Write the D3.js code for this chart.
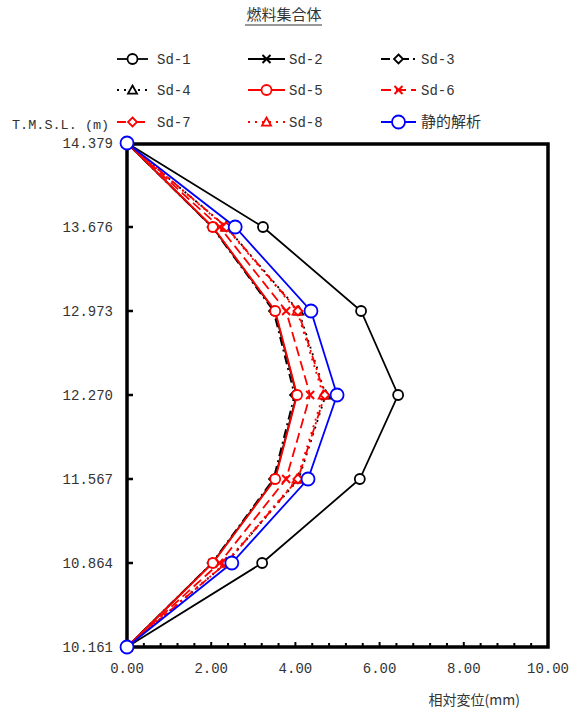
<!DOCTYPE html>
<html><head><meta charset="utf-8">
<script src="https://cdn.jsdelivr.net/npm/d3@7"></script>
<style>body{margin:0;background:#fff}</style></head>
<body><svg id="c" width="571" height="713"></svg>
<script>
const levels = [10.161, 10.864, 11.567, 12.270, 12.973, 13.676, 14.379];
const yTickLabels = ["10.161","10.864","11.567","12.270","12.973","13.676","14.379"];
const xTicks = [0,2,4,6,8,10];
const xTickLabels = ["0.00","2.00","4.00","6.00","8.00","10.00"];
const seriesNames = ["Sd-1","Sd-2","Sd-3","Sd-4","Sd-5","Sd-6","Sd-7","Sd-8","静的解析"];
const sd1 = [0, 3.21, 5.53, 6.44, 5.56, 3.23, 0];
const sd2 = [0, 2.03, 3.51, 4.03, 3.51, 2.03, 0];
const sd3 = [0, 2.02, 3.48, 3.98, 3.48, 2.02, 0];
const sd4 = [0, 2.36, 4.08, 4.72, 4.08, 2.36, 0];
const sd5 = [0, 2.04, 3.52, 4.04, 3.52, 2.04, 0];
const sd6 = [0, 2.20, 3.78, 4.35, 3.78, 2.20, 0];
const sd7 = [0, 2.36, 4.06, 4.70, 4.06, 2.36, 0];
const sd8 = [0, 2.34, 4.04, 4.66, 4.04, 2.34, 0];
const stat = [0, 2.49, 4.30, 4.99, 4.37, 2.57, 0];
const values = [sd1, sd2, sd3, sd4, sd5, sd6, sd7, sd8, stat];
const colors = ["#000","#000","#000","#000","#f00","#f00","#f00","#f00","#00f"];
const markers = ["circle","x","diamond","triangle","circle","x","diamond","triangle","bigcircle"];
const dashes = [null,null,"9,4,2,4","2,5","","10,5","9,4,2,4","2,5",null];
const drawOrder = [0,1,2,3,7,4,5,6,8];

const svg = d3.select("#c");
const mono = "'Liberation Mono','DejaVu Sans Mono',monospace";
const cjk = "'Noto Sans CJK JP',sans-serif";
const L=127,R=548,T=143,B=647;
const x = d3.scaleLinear().domain([0,10]).range([L,R]);
const y = d3.scaleLinear().domain([10.161,14.379]).range([B,T]);
const txtCol = "#333";

svg.append("text").attr("x",284).attr("y",20).attr("text-anchor","middle")
  .attr("font-family",cjk).attr("font-size",15).attr("fill",txtCol).text("燃料集合体");
svg.append("line").attr("x1",245).attr("x2",322).attr("y1",25).attr("y2",25).attr("stroke",txtCol).attr("stroke-width",1);

function marker(g, type, cx, cy, col){
  if(type==="circle"||type==="bigcircle"){
    g.append("circle").attr("cx",cx).attr("cy",cy).attr("r",type==="bigcircle"?6.5:5)
      .attr("fill","#fff").attr("stroke",col).attr("stroke-width",1.8);
  } else if(type==="x"){
    const s=4;
    g.append("path").attr("d",`M${cx-s},${cy-s}L${cx+s},${cy+s}M${cx-s},${cy+s}L${cx+s},${cy-s}`)
      .attr("stroke",col).attr("stroke-width",2).attr("fill","none");
  } else if(type==="diamond"){
    const s=4.5;
    g.append("path").attr("d",`M${cx},${cy-s}L${cx+s},${cy}L${cx},${cy+s}L${cx-s},${cy}Z`)
      .attr("stroke",col).attr("stroke-width",1.8).attr("fill","#fff");
  } else if(type==="triangle"){
    const s=4.5;
    g.append("path").attr("d",`M${cx},${cy-s}L${cx+s},${cy+s*0.8}L${cx-s},${cy+s*0.8}Z`)
      .attr("stroke",col).attr("stroke-width",1.8).attr("fill","#fff");
  }
}

const ax = svg.append("g");
xTicks.forEach((v,i)=>{
  ax.append("text").attr("x",x(v)).attr("y",673).attr("text-anchor","middle")
    .attr("font-family",mono).attr("font-size",14).attr("fill",txtCol).text(xTickLabels[i]);
});
d3.range(0,10.01,0.4).forEach(v=>{
  const major = Math.abs(v/2-Math.round(v/2))<1e-6;
  ax.append("line").attr("x1",x(v)).attr("x2",x(v)).attr("y1",B).attr("y2",B-(major?5:4))
    .attr("stroke","#000").attr("stroke-width",2);
});
levels.forEach((v,i)=>{
  ax.append("text").attr("x",113).attr("y",y(v)+5).attr("text-anchor","end")
    .attr("font-family",mono).attr("font-size",14).attr("fill",txtCol).text(yTickLabels[i]);
  ax.append("line").attr("x1",L).attr("x2",L+6).attr("y1",y(v)).attr("y2",y(v))
    .attr("stroke","#000").attr("stroke-width",2.5);
});
svg.append("text").attr("x",12).attr("y",129).attr("font-family",mono).attr("font-size",13.5)
  .attr("fill",txtCol).text("T.M.S.L. (m)");
svg.append("text").attr("x",520).attr("y",705).attr("text-anchor","end").attr("font-family",cjk)
  .attr("font-size",14).attr("fill",txtCol).text("相対変位(mm)");

svg.append("rect").attr("x",L).attr("y",T+1).attr("width",R-L).attr("height",B-T-1)
  .attr("fill","none").attr("stroke","#000").attr("stroke-width",3.5);

const line = d3.line().x(d=>x(d[0])).y(d=>y(d[1]));
const pg = svg.append("g");
drawOrder.forEach(i=>{
  const pts = values[i].map((v,k)=>[v,levels[k]]);
  const p = pg.append("path").attr("d",line(pts)).attr("fill","none").attr("stroke",colors[i])
    .attr("stroke-width",1.8);
  if(dashes[i]) p.attr("stroke-dasharray",dashes[i]);
});
drawOrder.forEach(i=>{
  values[i].forEach((v,k)=>marker(pg,markers[i],x(v),y(levels[k]),colors[i]));
});

const cols=[[117,148,157],[248,285,289],[381,416,421]];
const rows=[59,90,122];
seriesNames.forEach((n,i)=>{
  const c=cols[i%3], ry=rows[Math.floor(i/3)];
  const g=svg.append("g");
  const mx=(c[0]+c[1])/2;
  const l=g.append("line").attr("x1",c[0]).attr("x2",c[1]).attr("y1",ry).attr("y2",ry)
    .attr("stroke",colors[i]).attr("stroke-width",1.8);
  if(dashes[i]) l.attr("stroke-dasharray",dashes[i]);
  marker(g,markers[i],mx,ry,colors[i]);
  g.append("text").attr("x",c[2]).attr("y",ry+5).attr("font-family",i===8?cjk:mono)
    .attr("font-size",i===8?15:14).attr("fill",txtCol).text(n);
});
</script></body></html>
